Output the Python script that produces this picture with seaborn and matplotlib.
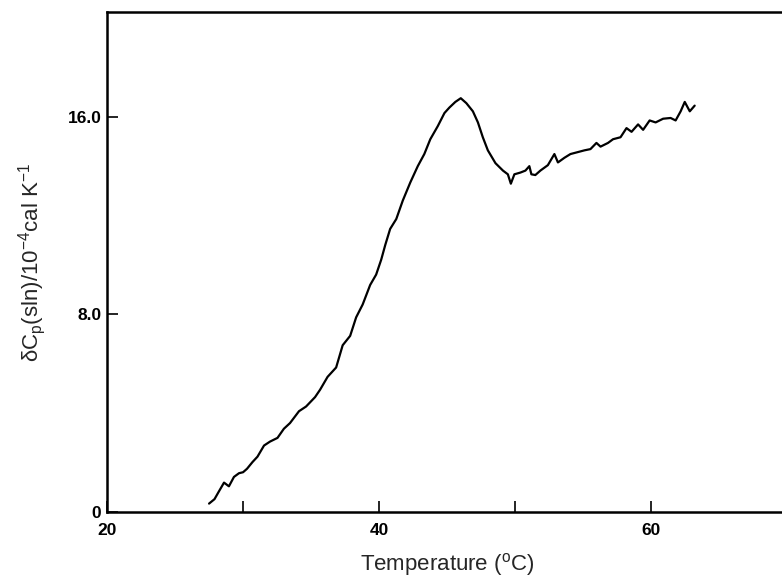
import pandas as pd
import seaborn as sns
import matplotlib.pyplot as plt

# trace
temperature = [27.5, 27.9, 28.2, 28.6, 28.96, 29.33, 29.7, 30.0, 30.29, 30.69, 31.06,
               31.54, 31.98, 32.53, 33.0, 33.45, 34.11, 34.63, 35.29, 35.66, 36.21,
               36.84, 37.32, 37.87, 38.31, 38.79, 39.34, 39.78, 40.15, 40.45, 40.81,
               41.26, 41.74, 42.29, 42.84, 43.32, 43.76, 44.31, 44.8, 45.16, 45.6,
               46.0, 46.41, 46.89, 47.26, 47.62, 47.99, 48.55, 49.1, 49.46, 49.68,
               49.94, 50.38, 50.75, 51.04, 51.19, 51.48, 51.85, 52.4, 52.88, 53.14,
               53.62, 54.06, 54.61, 55.09, 55.53, 55.97, 56.27, 56.82, 57.19, 57.74,
               58.18, 58.55, 59.03, 59.4, 59.88, 60.32, 60.87, 61.42, 61.79, 62.16,
               62.46, 62.83, 63.19]
dcp = [0.34, 0.52, 0.81, 1.19, 1.04, 1.42, 1.57, 1.61, 1.75, 2.02, 2.24,
       2.69, 2.85, 3.0, 3.37, 3.6, 4.08, 4.27, 4.65, 4.95, 5.47,
       5.85, 6.75, 7.13, 7.88, 8.4, 9.19, 9.61, 10.21, 10.81, 11.46,
       11.86, 12.61, 13.34, 14.0, 14.49, 15.09, 15.62, 16.15, 16.37, 16.6,
       16.75, 16.55, 16.22, 15.77, 15.17, 14.64, 14.12, 13.82, 13.67, 13.29,
       13.67, 13.74, 13.82, 14.0, 13.67, 13.64, 13.82, 14.04, 14.49, 14.15,
       14.34, 14.49, 14.57, 14.64, 14.69, 14.94, 14.79, 14.94, 15.09, 15.17,
       15.54, 15.39, 15.69, 15.47, 15.85, 15.77, 15.92, 15.95, 15.85, 16.22,
       16.6, 16.22, 16.45]

xticks = [20, 30, 40, 50, 60]
xticklabels = ["20", "", "40", "", "60"]
yticks = [0, 8, 16]
yticklabels = ["0", "8.0", "16.0"]

sns.set_theme(style="ticks")
plt.rcParams["font.family"] = ["Liberation Sans", "DejaVu Sans"]
plt.rcParams["mathtext.default"] = "regular"

data = pd.DataFrame({"T": temperature, "dCp": dcp})

fig = plt.figure(figsize=(7.82, 5.82), dpi=100)
ax = fig.add_axes([107 / 782, 70 / 582, 0.87, 500 / 582])
sns.lineplot(data=data, x="T", y="dCp", ax=ax, color="black", linewidth=1.6)

ax.set_xlim(20, 70)
ax.set_ylim(0, 20.24)
ax.set_xticks(xticks)
ax.set_xticklabels(xticklabels, fontsize=12.5, fontweight="bold")
ax.set_yticks(yticks)
ax.set_yticklabels(yticklabels, fontsize=12.5, fontweight="bold")
ax.tick_params(axis="both", direction="in", length=8, width=1.2, colors="black")
ax.tick_params(axis="x", pad=8)
ax.tick_params(axis="y", pad=4)

for side in ["left", "bottom", "top"]:
    ax.spines[side].set_linewidth(1.8)
    ax.spines[side].set_color("black")
ax.spines["right"].set_visible(False)

ax.set_xlabel("Temperature ($^{o}$C)", fontsize=16, labelpad=9)
ax.set_ylabel("δC$_p$(sln)/10$^{-4}$cal K$^{-1}$", fontsize=16, labelpad=14)

fig.savefig("out.png", dpi=100)
